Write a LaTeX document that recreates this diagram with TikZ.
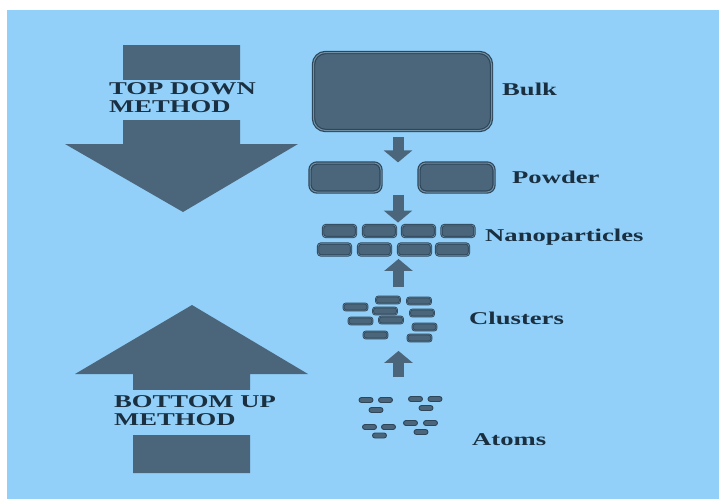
\documentclass[tikz,border=0pt]{standalone}
\usepackage{fontspec}
\setmainfont{Liberation Serif}
\usepackage{graphicx}
\usetikzlibrary{positioning,arrows.meta}

\definecolor{skyback}{HTML}{92D0FA}
\definecolor{slatefill}{HTML}{4B657A}
\definecolor{slateedge}{HTML}{2E4659}
\definecolor{slatelight}{HTML}{7090A6}
\definecolor{inkblue}{HTML}{1A2F40}

\newcommand{\widen}[1]{\scalebox{1.48}[1]{#1}}

\tikzset{
  bulkbox/.style={draw=slateedge, fill=slatefill, line width=1.2pt,
    double=slatelight, double distance=1pt, rounded corners=12pt},
  powderbox/.style={bulkbox, rounded corners=7pt},
  nanobox/.style={draw=slateedge, fill=slatefill, line width=0.9pt,
    double=slatelight, double distance=0.5pt, rounded corners=3pt,
    minimum width=33, minimum height=12, inner sep=0},
  clusterbox/.style={nanobox, line width=0.8pt, double distance=0.3pt,
    rounded corners=2.5pt, minimum width=24, minimum height=7},
  atombox/.style={draw=slateedge, fill=slatefill, line width=0.9pt,
    rounded corners=2.5pt, minimum width=14, minimum height=5, inner sep=0},
  flow/.style={draw=slatefill, line width=11pt, -{Triangle[length=12pt,width=28pt]}},
  stagelabel/.style={text=inkblue, font=\fontsize{18}{18}\selectfont\bfseries,
    inner sep=0, anchor=base west},
  methodlabel/.style={text=inkblue, font=\fontsize{18}{18}\selectfont\bfseries,
    fill=skyback, inner sep=2pt},
}

\begin{document}
\begin{tikzpicture}[x=1pt,y=-1pt]
  \useasboundingbox (0,0) rectangle (719,499);
  \fill[white] (0,0) rectangle (719,499);
  \fill[skyback] (7,10) rectangle (719,499);

  % Big arrows
  \fill[slatefill] (123,45) -- (240,45) -- (240,144) -- (298,144) -- (183,212)
    -- (65,144) -- (123,144) -- cycle;
  \fill[slatefill] (133,473) -- (250,473) -- (250,374) -- (308,374) -- (192,305)
    -- (75,374) -- (133,374) -- cycle;
  \node[methodlabel, minimum height=40] (topdown) at (182.5,100)
    {\widen{\begin{tabular}{@{}l@{}}TOP DOWN\\METHOD\end{tabular}}};
  \node[methodlabel, minimum height=45] (bottomup) at (195,412.5)
    {\widen{\begin{tabular}{@{}l@{}}BOTTOM UP\\METHOD\end{tabular}}};

  %  Define nodes
  \node[bulkbox, minimum width=178, minimum height=78] (bulk) at (402.5,91.5) {};
  \node[powderbox, minimum width=71, minimum height=29] (powderL) at (345.5,177.5) {};
  \node[powderbox, minimum width=75, minimum height=29] (powderR) at (456.5,177.5) {};

  \foreach \x [count=\i] in {339.5,379.5,418.5,458}
    \node[nanobox] (nano-a\i) at (\x,231) {};
  \foreach \x [count=\i] in {334.5,374.5,414.5,452.5}
    \node[nanobox] (nano-b\i) at (\x,249.5) {};

  \foreach \x/\y [count=\i] in {388/300, 419/301, 355.5/307, 385/311, 422/313,
      360.5/321, 391/320, 424.5/327, 375.5/335, 419.5/338}
    \node[clusterbox] (cluster\i) at (\x,\y) {};

  \foreach \x/\y [count=\i] in {366/400, 385.5/400, 376/410,
      415.5/399, 435/399, 426/408,
      369.5/427, 388.5/427, 379.5/435.5,
      410.5/423, 430.5/423, 421/432}
    \node[atombox] (atom\i) at (\x,\y) {};

  % Labels
  \node[stagelabel] (bulklabel) at (502,95) {\widen{Bulk}};
  \node[stagelabel] (powderlabel) at (512,183) {\widen{Powder}};
  \node[stagelabel] (nanolabel) at (485,241) {\widen{Nanoparticles}};
  \node[stagelabel] (clusterlabel) at (469,324) {\widen{Clusters}};
  \node[stagelabel] (atomlabel) at (472,445) {\widen{Atoms}};

  % Connect the nodes
  \coordinate (downflow) at (398,0);
  \coordinate (upflow) at (398.5,0);
  \draw[flow, shorten <=6pt] (bulk.south -| downflow) -- (powderL.north -| downflow);
  \draw[flow, shorten <=2pt, shorten >=2pt] (powderL.south -| downflow) -- (nano-a2.north -| downflow);
  \draw[flow, shorten <=9pt, shorten >=3pt] (cluster1.north -| upflow) -- (nano-b2.south -| upflow);
  \draw[flow, shorten <=19pt, shorten >=9pt] (atom4.north -| upflow) -- (cluster10.south -| upflow);
\end{tikzpicture}
\end{document}
